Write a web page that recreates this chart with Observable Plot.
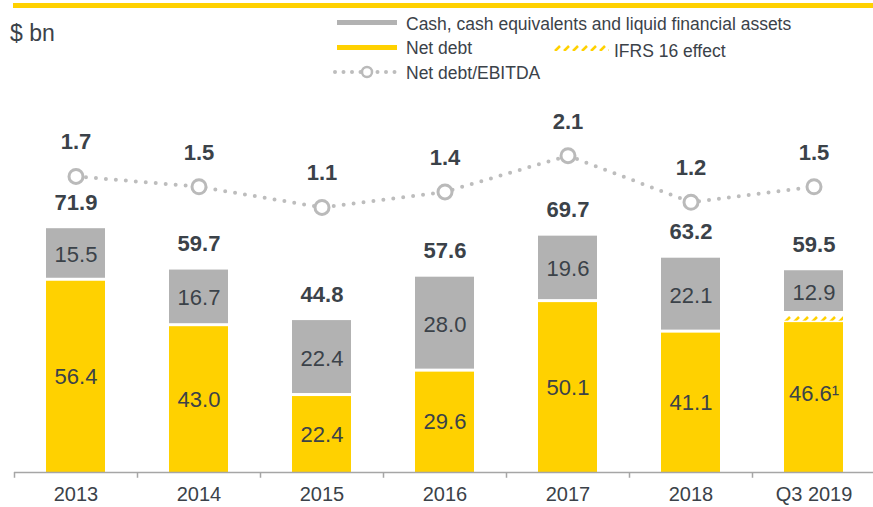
<!DOCTYPE html>
<html><head><meta charset="utf-8">
<script src="https://cdn.jsdelivr.net/npm/d3@7"></script>
<script src="https://cdn.jsdelivr.net/npm/@observablehq/plot@0.6"></script>
<style>
body{margin:0;background:#fff;font-family:"Liberation Sans",Arial,sans-serif;color:#3b4249;}
#wrap{position:relative;width:873px;height:507px;overflow:hidden;}
#wrap svg.chart{position:absolute;left:0;top:0;}
.topbar{position:absolute;left:13px;top:3px;width:860px;height:5px;background:#FFD100;}
.unit{position:absolute;left:10px;top:19px;font-size:23px;line-height:28px;}
.lg{position:absolute;font-size:17.5px;line-height:20px;white-space:nowrap;color:#3b4249;}
.sw{position:absolute;height:5px;}
</style></head><body><div id="wrap">
<div class="topbar"></div>
<div class="unit">$ bn</div>
<div class="sw" style="left:337px;top:20px;width:60px;background:#B2B2B2"></div>
<div class="lg" style="left:406px;top:14px">Cash, cash equivalents and liquid financial assets</div>
<div class="sw" style="left:337px;top:45px;width:60px;background:#FFD100"></div>
<div class="lg" style="left:406px;top:38px">Net debt</div>
<svg style="position:absolute;left:553px;top:44px" width="56" height="9">
<defs><pattern id="ifrsL" patternUnits="userSpaceOnUse" width="9" height="9"><rect width="9" height="9" fill="#fff"/><path d="M2,7 L7,2" stroke="#FFD100" stroke-width="2.5"/></pattern></defs>
<rect x="0" y="1" width="56" height="6" fill="url(#ifrsL)"/></svg>
<div class="lg" style="left:614px;top:41px">IFRS 16 effect</div>
<svg style="position:absolute;left:330px;top:62px" width="72" height="20">
<line x1="5" y1="10" x2="68" y2="10" stroke="#bdbdbd" stroke-width="4" stroke-linecap="round" stroke-dasharray="0,8.5"/>
<circle cx="37" cy="10" r="5" fill="#fff" stroke="#bababa" stroke-width="2.5"/></svg>
<div class="lg" style="left:406px;top:63px">Net debt/EBITDA</div>
</div>
<script>
const years = ["2013","2014","2015","2016","2017","2018","Q3 2019"];
const netDebt = [56.4, 43.0, 22.4, 29.6, 50.1, 41.1, 44.2];
const ifrs16 = [0, 0, 0, 0, 0, 0, 2.4];
const cash = [15.5, 16.7, 22.4, 28.0, 19.6, 22.1, 12.9];
const totals = [71.9, 59.7, 44.8, 57.6, 69.7, 63.2, 59.5];
const ratio = [1.7, 1.5, 1.1, 1.4, 2.1, 1.2, 1.5];
const netDebtLabels = ["56.4","43.0","22.4","29.6","50.1","41.1","46.6\u00B9"];

const rows = years.map((year, i) => ({
  year, net: netDebt[i], ifrs: ifrs16[i], cash: cash[i], total: totals[i],
  ratio: ratio[i], netLabel: netDebtLabels[i]
}));
// ratio drawn on a secondary scale mapped into the bar scale
const ratioToY = r => 61.4 + 15.25 * r;

const dark = "#3b4249";
const font = "Liberation Sans, Arial, sans-serif";
const inset = {insetLeft: 32, insetRight: 32};

const chart = Plot.plot({
  width: 873, height: 507,
  marginTop: 20, marginBottom: 35, marginLeft: 14, marginRight: -2,
  style: {fontFamily: font, color: dark, background: "transparent", overflow: "visible"},
  x: {domain: years, padding: 0, label: null},
  y: {domain: [0, 133.3], axis: null},
  marks: [
    Plot.barY(rows, {x: "year", y1: 0, y2: "net", fill: "#FFD100", ...inset}),
    Plot.barY(rows.filter(d => d.ifrs > 0), {x: "year", y1: "net", y2: d => d.net + d.ifrs, fill: "url(#ifrs)", insetBottom: 1.5, ...inset}),
    Plot.barY(rows, {x: "year", y1: d => d.net + d.ifrs, y2: "total", fill: "#B2B2B2", insetBottom: 3, ...inset}),
    Plot.ruleY([0], {stroke: "#a6a6a6", strokeWidth: 1.5}),
    Plot.ruleX(years, {x: d => d, dx: -61.5, y1: 0, y2: -1.7, stroke: "#a6a6a6", strokeWidth: 1.5}),
    Plot.axisX({tickSize: 0, tickPadding: 14, fontSize: 20, fill: dark, label: null}),
    Plot.text(rows, {x: "year", y: d => d.net + d.ifrs + d.cash / 2, text: d => d.cash.toFixed(1), fontSize: 22, fill: dark}),
    Plot.text(rows, {x: "year", y: d => (d.net + d.ifrs) / 2, text: "netLabel", fontSize: 22, fill: dark}),
    Plot.text(rows, {x: "year", y: "total", dy: -26, text: d => d.total.toFixed(1), fontSize: 22, fontWeight: "bold", fill: dark}),
    Plot.line(rows, {x: "year", y: d => ratioToY(d.ratio), stroke: "#bdbdbd", strokeWidth: 4, strokeDasharray: "0,10", strokeLinecap: "round"}),
    Plot.dot(rows, {x: "year", y: d => ratioToY(d.ratio), r: 7, stroke: "#bababa", strokeWidth: 3, fill: "white"}),
    Plot.text(rows, {x: "year", y: d => ratioToY(d.ratio), dy: -34, text: d => d.ratio.toFixed(1), fontSize: 22, fontWeight: "bold", fill: dark})
  ]
});
chart.classList.add("chart");
const ns = "http://www.w3.org/2000/svg";
const defs = document.createElementNS(ns, "defs");
defs.innerHTML = '<pattern id="ifrs" patternUnits="userSpaceOnUse" width="9" height="9"><rect width="9" height="9" fill="#fff"/><path d="M2,7 L7,2" stroke="#FFD100" stroke-width="2.5"/></pattern>';
chart.insertBefore(defs, chart.firstChild);
const wrap = document.getElementById("wrap");
wrap.insertBefore(chart, wrap.firstChild);
</script>
</body></html>
